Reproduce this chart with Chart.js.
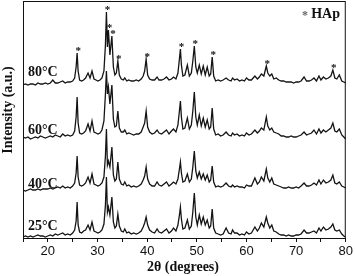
<!DOCTYPE html>
<html>
<head>
<meta charset="utf-8">
<script src="https://cdn.jsdelivr.net/npm/chart.js@4/dist/chart.umd.min.js"></script>
<style>
  body { margin: 0; background: #fff; }
  #xrd { display: block; }
</style>
</head>
<body>
<canvas id="xrd" width="355" height="276"></canvas>
<script>
// 2θ positions shared by all four patterns
const twoTheta = [
  15, 15.5, 16, 16.5, 17, 17.5, 18, 18.5, 19, 19.5,
  20, 20.5, 21, 21.5, 22, 22.5, 23, 23.5, 24, 24.5,
  25, 25.4, 25.7, 25.9, 26.1, 26.4, 26.8, 27.2, 27.6, 28.1,
  28.5, 28.9, 29.3, 29.7, 30.1, 30.5, 30.9, 31.3, 31.6, 31.8,
  32.0, 32.2, 32.5, 32.9, 33.2, 33.5, 33.8, 34.1, 34.4, 34.8,
  35.2, 35.5, 35.9, 36.3, 36.8, 37.3, 37.8, 38.3, 38.8, 39.2,
  39.5, 39.8, 40.1, 40.5, 41.0, 41.5, 42.0, 42.4, 42.9, 43.4,
  43.9, 44.4, 44.9, 45.3, 45.8, 46.2, 46.5, 46.7, 46.9, 47.2,
  47.6, 48.1, 48.5, 48.9, 49.2, 49.5, 49.8, 50.1, 50.5, 50.9,
  51.3, 51.7, 52.1, 52.5, 52.8, 53.1, 53.4, 53.8, 54.3, 54.8,
  55.3, 55.9, 56.4, 56.9, 57.2, 57.6, 58.1, 58.6, 59.1, 59.6,
  60.0, 60.5, 61.0, 61.7, 62.2, 62.6, 63.0, 63.5, 64.0, 64.3,
  64.7, 65.1, 65.5, 66.0, 66.5, 67.0, 67.5, 68.0, 68.5, 69.0,
  69.5, 70.0, 70.5, 71.0, 71.6, 72.1, 72.6, 73.1, 73.6, 74.1,
  74.6, 75.0, 75.5, 76.0, 76.5, 77.0, 77.4, 77.8, 78.2, 78.7,
  79.2, 79.6, 80.0
];

// intensities (a.u.) above each pattern's own baseline
const i25 = [
  0, 1, 0, 1, 0, 1, 2, 1, 1, 0,
  1, 2, 1, 3, 2, 3, 4, 2, 3, 2,
  4, 7, 16, 35, 12, 5, 4, 6, 7, 12,
  7, 15, 6, 5, 4, 5, 7, 13, 32, 60,
  25, 30, 22, 40, 15, 9, 11, 23, 11, 6,
  5, 8, 4, 5, 3, 4, 3, 4, 6, 10,
  14, 20, 12, 7, 5, 4, 8, 5, 4, 6,
  8, 4, 6, 9, 6, 12, 22, 30, 18, 8,
  9, 17, 8, 11, 25, 44, 20, 12, 22, 13,
  20, 12, 17, 9, 11, 28, 9, 4, 3, 2,
  3, 9, 4, 3, 7, 4, 4, 2, 3, 2,
  5, 3, 4, 10, 6, 9, 14, 10, 20, 14,
  9, 12, 6, 5, 3, 2, 2, 1, 2, 1,
  1, 2, 2, 3, 7, 4, 4, 5, 6, 4,
  9, 6, 10, 7, 8, 10, 13, 7, 6, 7,
  3, 1, 0
];
const i40 = [
  1, 0, 1, 2, 1, 1, 2, 1, 2, 2,
  2, 3, 2, 3, 4, 3, 5, 3, 4, 3,
  5, 8, 18, 35, 14, 6, 5, 6, 8, 14,
  8, 17, 7, 6, 5, 6, 8, 14, 35, 62,
  26, 30, 24, 44, 16, 10, 12, 29, 12, 7,
  6, 9, 5, 6, 4, 5, 4, 5, 7, 11,
  15, 24, 12, 7, 5, 5, 9, 6, 5, 7,
  9, 5, 7, 9, 7, 12, 22, 29, 18, 9,
  10, 17, 9, 12, 24, 40, 20, 13, 19, 12,
  17, 11, 16, 9, 11, 25, 9, 4, 5, 4,
  5, 8, 5, 4, 6, 4, 5, 4, 4, 3,
  6, 5, 5, 13, 7, 9, 14, 10, 22, 13,
  9, 13, 7, 6, 5, 4, 3, 3, 4, 3,
  3, 4, 3, 5, 8, 5, 5, 6, 8, 6,
  11, 7, 11, 8, 9, 11, 16, 8, 7, 9,
  5, 4, 3
];
const i60 = [
  2, 1, 2, 0, 1, 2, 1, 3, 2, 1,
  2, 3, 2, 4, 3, 2, 5, 3, 4, 3,
  4, 8, 22, 42, 16, 6, 5, 6, 8, 15,
  8, 18, 7, 6, 5, 6, 9, 18, 45, 68,
  45, 52, 35, 54, 20, 12, 13, 28, 11, 7,
  7, 9, 5, 6, 5, 4, 5, 5, 7, 12,
  16, 28, 12, 7, 5, 6, 9, 6, 5, 7,
  9, 5, 8, 10, 7, 14, 28, 38, 22, 10,
  11, 21, 10, 14, 28, 47, 22, 14, 24, 13,
  21, 12, 19, 10, 12, 31, 10, 4, 5, 3,
  4, 7, 4, 3, 6, 4, 5, 3, 4, 3,
  6, 4, 5, 9, 6, 8, 11, 9, 22, 13,
  9, 11, 7, 6, 5, 3, 3, 2, 2, 3,
  2, 2, 3, 4, 7, 4, 5, 6, 9, 5,
  10, 6, 9, 7, 9, 11, 16, 8, 7, 10,
  4, 2, 0
];
const i80 = [
  0, 1, 0, 1, 1, 0, 2, 1, 1, 2,
  1, 2, 5, 2, 2, 3, 4, 2, 3, 3,
  4, 7, 18, 32, 14, 5, 4, 5, 7, 12,
  7, 14, 6, 5, 4, 5, 7, 14, 40, 73,
  38, 55, 30, 49, 18, 10, 12, 24, 10, 6,
  5, 7, 4, 5, 4, 4, 5, 4, 6, 9,
  14, 26, 10, 6, 5, 5, 8, 5, 5, 6,
  8, 5, 6, 8, 6, 12, 26, 36, 20, 9,
  10, 20, 9, 12, 24, 39, 18, 12, 20, 11,
  19, 10, 18, 9, 11, 28, 9, 4, 5, 4,
  5, 7, 5, 4, 7, 5, 6, 4, 5, 4,
  7, 5, 5, 9, 6, 8, 11, 9, 19, 12,
  9, 11, 6, 7, 5, 4, 4, 3, 3, 3,
  2, 3, 3, 4, 8, 4, 4, 5, 7, 4,
  9, 5, 8, 6, 7, 9, 15, 7, 6, 10,
  4, 3, 2
];

const temps = ['25°C', '40°C', '60°C', '80°C'];
const offsets = [1, 47, 99, 153];
const series = [i25, i40, i60, i80];
// HAp reflections marked with * on the 80°C pattern
const hapPeaks = [25.9, 31.8, 32.2, 32.9, 34.1, 39.8, 46.7, 49.5, 53.1, 64.0, 77.4];

const serif = '"Liberation Serif", "Times New Roman", serif';

const datasets = series.map((vals, k) => ({
  label: temps[k],
  data: vals.map((v, i) => ({x: twoTheta[i], y: v + offsets[k]})),
  borderColor: '#141414',
  borderWidth: 1.3,
  pointRadius: 0,
  tension: 0,
  fill: false
}));

const decor = {
  id: 'decor',
  afterDraw(chart) {
    const {ctx, chartArea: a, scales: {x, y}} = chart;
    ctx.save();
    ctx.strokeStyle = '#111';
    ctx.lineWidth = 1;
    ctx.strokeRect(a.left + 0.5, a.top + 0.5, a.right - a.left - 1, a.bottom - a.top);

    ctx.fillStyle = '#111';
    ctx.font = 'bold 14px ' + serif;
    ctx.textAlign = 'left';
    ctx.textBaseline = 'alphabetic';
    const labelBase = [230, 188, 134, 76];
    temps.forEach((t, k) => ctx.fillText(t, 28, labelBase[k]));

    // stars over the HAp peaks of the top pattern
    ctx.font = 'bold 11px ' + serif;
    ctx.textAlign = 'center';
    hapPeaks.forEach(p => {
      const i = twoTheta.indexOf(p);
      const px = x.getPixelForValue(p);
      const py = y.getPixelForValue(i80[i] + offsets[3]);
      ctx.fillText('*', px + 1, py + 1);
    });

    ctx.textAlign = 'right';
    ctx.font = 'bold 14px ' + serif;
    ctx.fillText('HAp', 340, 18);
    ctx.fillStyle = '#666';
    ctx.font = 'bold 12px ' + serif;
    ctx.fillText('*', 308, 19);

    // axis titles
    ctx.fillStyle = '#111';
    ctx.font = 'bold 14px ' + serif;
    ctx.textAlign = 'center';
    ctx.fillText('2θ (degrees)', 183, 271);
    ctx.translate(12, 110);
    ctx.rotate(-Math.PI / 2);
    ctx.fillText('Intensity (a.u.)', 0, 0);
    ctx.restore();
  }
};

new Chart(document.getElementById('xrd'), {
  type: 'line',
  data: {datasets},
  options: {
    responsive: false,
    animation: false,
    layout: {padding: {left: 0, right: 8, top: 1, bottom: 0}},
    plugins: {legend: {display: false}, tooltip: {enabled: false}},
    scales: {
      x: {
        type: 'linear',
        min: 15,
        max: 80,
        border: {display: false},
        grid: {drawOnChartArea: false, tickLength: 4, color: '#111'},
        ticks: {
          stepSize: 5,
          autoSkip: false,
          maxRotation: 0,
          padding: 2,
          color: '#111',
          font: {family: '"Liberation Sans", Arial, sans-serif', size: 13},
          callback: v => (v % 10 === 0 ? String(v) : '')
        },
        afterFit: s => { s.height = 38; }
      },
      y: {
        min: 0,
        max: 237,
        border: {display: false},
        grid: {display: false},
        ticks: {display: false},
        afterFit: s => { s.width = 23; }
      }
    }
  },
  plugins: [decor]
});
</script>
</body>
</html>
